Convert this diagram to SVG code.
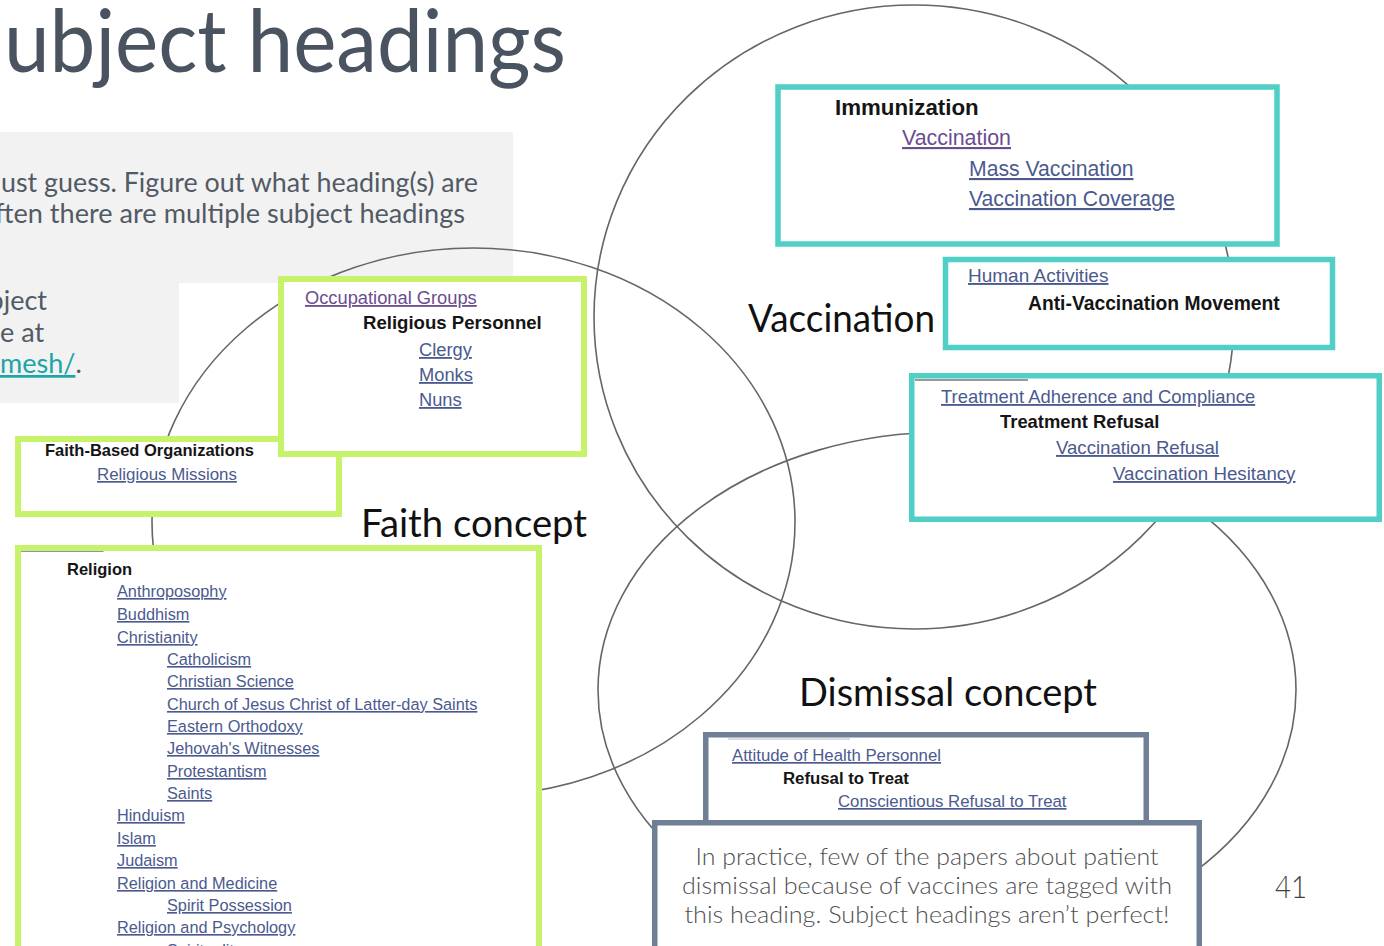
<svg xmlns="http://www.w3.org/2000/svg" width="1384" height="946" viewBox="0 0 1384 946">
<defs>
<style>
.av{font-family:Lato,"Open Sans","Liberation Sans",sans-serif;font-weight:400;}
.lt{font-weight:300;}
.ar{font-family:"Liberation Sans",Arial,sans-serif;}
.b{font-weight:bold;fill:#151515;}
.lk{fill:#4b5a8e;text-decoration:underline;}
.vis{fill:#6b4c8f;text-decoration:underline;}
.ring{fill:none;stroke:#666;stroke-width:1.6;}
.teal{fill:#fff;stroke:#4fcfc5;stroke-width:5.5;}
.lime{fill:#fff;stroke:#c6f36a;stroke-width:6;}
.slate{fill:#fff;stroke:#6f8096;stroke-width:5.5;}
.lbl{font-size:38px;fill:#111;}
.gt{font-size:27px;fill:#525a65;}
</style>
<clipPath id="humClip"><rect x="21" y="551" width="515" height="10"/></clipPath>
</defs>
<rect x="0" y="0" width="1384" height="946" fill="#fff"/>
<g id="slide-background">
<path d="M0 132 H513 V283 H179 V403 H0 Z" fill="#f2f2f2"/>
<text class="av" x="4" y="72" font-size="88" fill="#4a5360" textLength="562" lengthAdjust="spacingAndGlyphs">ubject headings</text>
<text class="av gt" x="1" y="192" textLength="477" lengthAdjust="spacingAndGlyphs">ust guess. Figure out what heading(s) are</text>
<text class="av gt" x="-5" y="223" textLength="470" lengthAdjust="spacingAndGlyphs">ften there are multiple subject headings</text>
<text class="av gt" x="47" y="310" text-anchor="end">bject</text>
<text class="av gt" x="0" y="342">e at</text>
<text class="av gt" x="0" y="373"><tspan fill="#1aa5a8" text-decoration="underline">mesh/</tspan>.</text>
</g>
<g id="connectors">
<ellipse class="ring" cx="914" cy="317" rx="320" ry="312"/>
<ellipse class="ring" cx="473.5" cy="522" rx="321.5" ry="274"/>
<ellipse class="ring" cx="947" cy="690" rx="349" ry="258"/>
</g>
<g id="label-vaccination"><text class="av lbl" x="748" y="332" textLength="187" lengthAdjust="spacingAndGlyphs">Vaccination</text></g>
<g id="label-faith"><text class="av lbl" x="361" y="537" textLength="226" lengthAdjust="spacingAndGlyphs">Faith concept</text></g>
<g id="label-dismissal"><text class="av lbl" x="799" y="706" textLength="298" lengthAdjust="spacingAndGlyphs">Dismissal concept</text></g>

<g id="box-immunization">
<rect class="teal" x="778" y="87" width="499" height="157"/>
<text class="ar b" x="835" y="115" font-size="22.3">Immunization</text>
<text class="ar vis" x="902" y="145" font-size="21.4">Vaccination</text>
<text class="ar lk" x="969" y="176" font-size="21.2">Mass Vaccination</text>
<text class="ar lk" x="969" y="206" font-size="21.2">Vaccination Coverage</text>
</g>
<g id="box-anti-vaccination">
<rect class="teal" x="945.5" y="259.5" width="387" height="88"/>
<text class="ar lk" x="968" y="282" font-size="19">Human Activities</text>
<text class="ar b" x="1028" y="310" font-size="19.3">Anti-Vaccination Movement</text>
</g>
<g id="box-treatment-refusal">
<rect class="teal" x="911.75" y="375.75" width="467.5" height="143.5"/>
<line x1="915" y1="380" x2="1028" y2="380" stroke="#777" stroke-width="1.5"/>
<text class="ar lk" x="941" y="403" font-size="18.4">Treatment Adherence and Compliance</text>
<text class="ar b" x="1000" y="428" font-size="18.4">Treatment Refusal</text>
<text class="ar lk" x="1056" y="454" font-size="18.6">Vaccination Refusal</text>
<text class="ar lk" x="1113" y="480" font-size="18.7">Vaccination Hesitancy</text>
</g>

<g id="box-faith-based">
<rect class="lime" x="18" y="439" width="321" height="75"/>
<text class="ar b" x="45" y="456" font-size="16.5">Faith-Based Organizations</text>
<text class="ar lk" x="97" y="480" font-size="16.9">Religious Missions</text>
</g>
<g id="box-religious-personnel">
<rect class="lime" x="281" y="279" width="303" height="175"/>
<text class="ar vis" x="305" y="304" font-size="18.3">Occupational Groups</text>
<text class="ar b" x="363" y="329" font-size="18.6">Religious Personnel</text>
<text class="ar lk" x="419" y="356" font-size="18.3">Clergy</text>
<text class="ar lk" x="419" y="381" font-size="18.3">Monks</text>
<text class="ar lk" x="419" y="406" font-size="18.3">Nuns</text>
</g>
<g id="box-religion">
<rect class="lime" x="18" y="548" width="521" height="420"/>
<text class="ar lk" x="21" y="549" font-size="16.5" clip-path="url(#humClip)">Humanities</text>
<text class="ar b" x="67" y="575" font-size="16.5">Religion</text>
<g class="ar lk" font-size="16.3">
<text x="117" y="597">Anthroposophy</text>
<text x="117" y="620">Buddhism</text>
<text x="117" y="643">Christianity</text>
<text x="167" y="665">Catholicism</text>
<text x="167" y="687">Christian Science</text>
<text x="167" y="710">Church of Jesus Christ of Latter-day Saints</text>
<text x="167" y="732">Eastern Orthodoxy</text>
<text x="167" y="754">Jehovah's Witnesses</text>
<text x="167" y="777">Protestantism</text>
<text x="167" y="799">Saints</text>
<text x="117" y="821">Hinduism</text>
<text x="117" y="844">Islam</text>
<text x="117" y="866">Judaism</text>
<text x="117" y="889">Religion and Medicine</text>
<text x="167" y="911">Spirit Possession</text>
<text x="117" y="933">Religion and Psychology</text>
<text x="167" y="956">Spirituality</text>
</g>
</g>

<g id="box-refusal-to-treat">
<rect class="slate" x="705.75" y="734.75" width="440.5" height="100"/>
<line x1="728" y1="739" x2="850" y2="739" stroke="#b5bac4" stroke-width="1.2"/>
<text class="ar lk" x="732" y="761" font-size="16.8">Attitude of Health Personnel</text>
<text class="ar b" x="783" y="784" font-size="16.8">Refusal to Treat</text>
<text class="ar lk" x="838" y="807" font-size="16.8">Conscientious Refusal to Treat</text>
</g>
<g id="box-note">
<rect class="slate" x="654.75" y="822.75" width="544.5" height="140"/>
<g class="av lt" font-size="24" fill="#4f4f4f" text-anchor="middle">
<text x="927" y="865" textLength="463" lengthAdjust="spacingAndGlyphs">In practice, few of the papers about patient</text>
<text x="927" y="894" textLength="490" lengthAdjust="spacingAndGlyphs">dismissal because of vaccines are tagged with</text>
<text x="927" y="923" textLength="485" lengthAdjust="spacingAndGlyphs">this heading. Subject headings aren’t perfect!</text>
</g>
</g>
<g id="page-number"><text class="av lt" x="1275" y="898" font-size="32" fill="#3f3f3f" textLength="32" lengthAdjust="spacingAndGlyphs">41</text></g>
</svg>
